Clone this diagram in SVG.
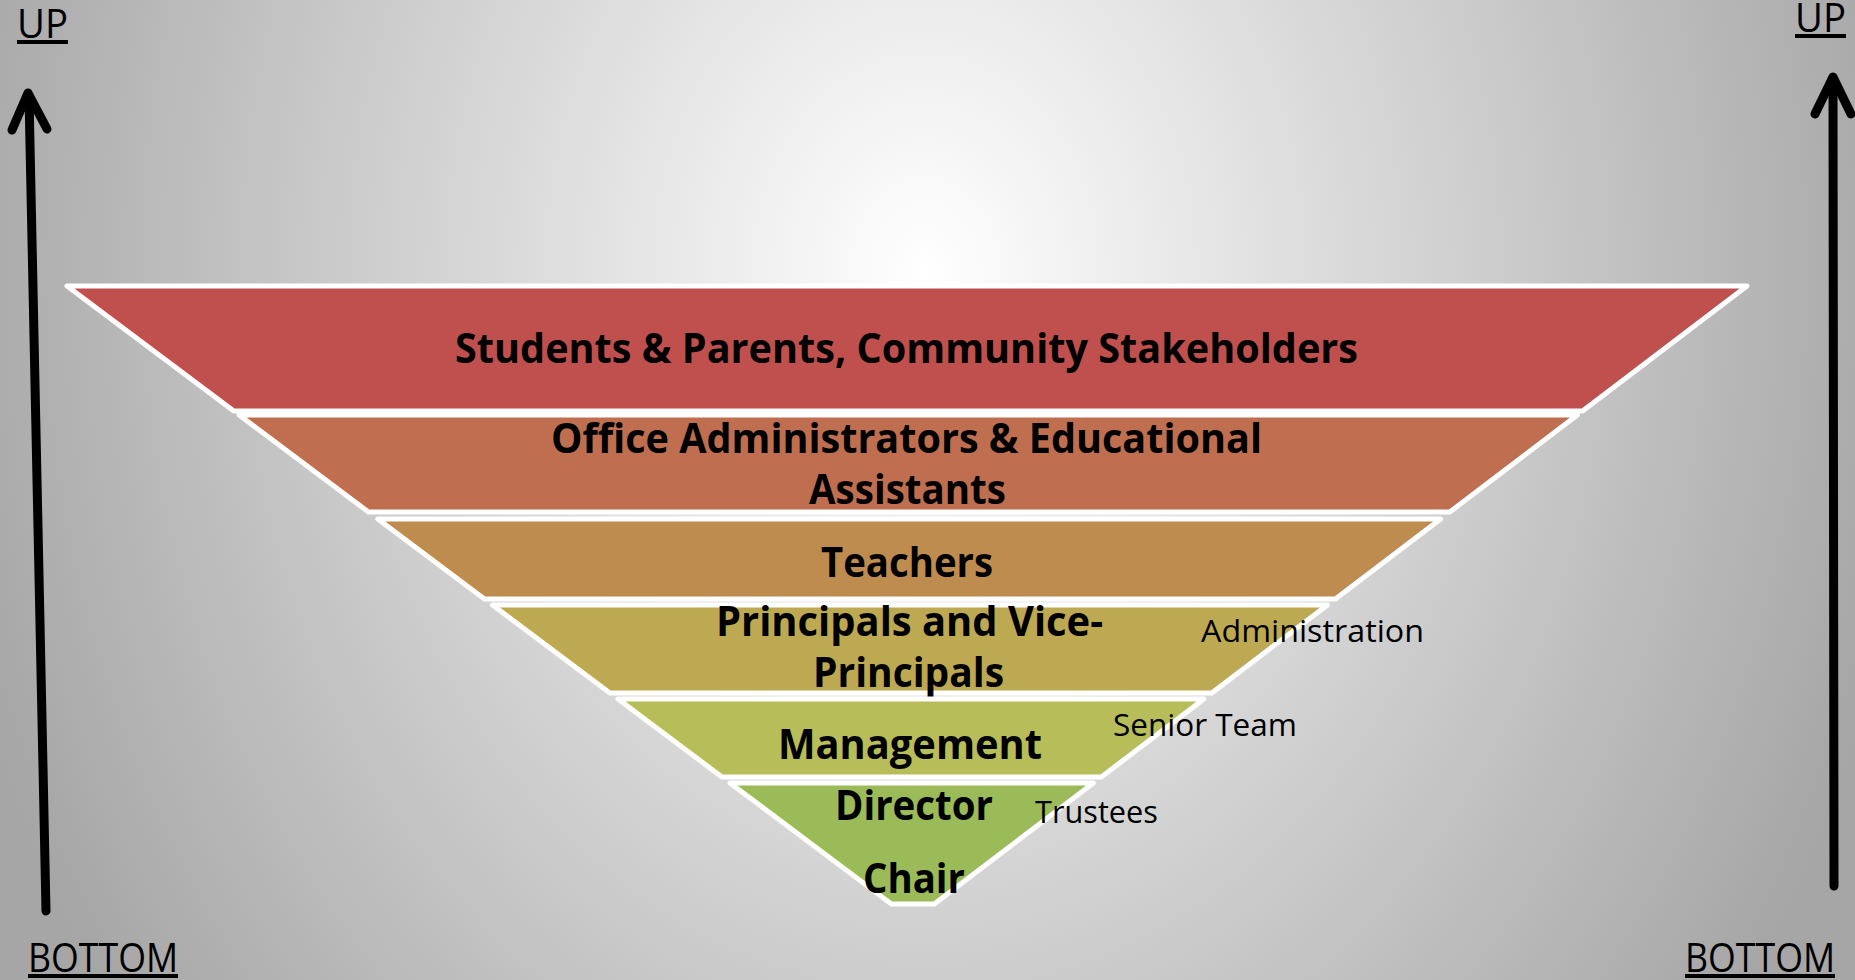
<svg xmlns="http://www.w3.org/2000/svg" width="1855" height="980" viewBox="0 0 1855 980">
<defs>
<radialGradient id="bg" gradientUnits="userSpaceOnUse" cx="0" cy="0" r="1" gradientTransform="translate(925 270) scale(1000 1250)">
<stop offset="0" stop-color="#FFFFFF"/>
<stop offset="1" stop-color="#A6A6A6"/>
</radialGradient>
<style>
.band{stroke:#FFFFFF;stroke-width:5;stroke-linejoin:round}
.lbl{font-family:"Open Sans","Liberation Sans",sans-serif;font-weight:bold;font-size:42px;fill:#000}
.side{font-family:"Open Sans","Liberation Sans",sans-serif;font-size:31px;fill:#000}
.dir{font-family:"Open Sans","Liberation Sans",sans-serif;font-size:40px;fill:#000;text-decoration:underline}
.arrow{fill:none;stroke:#000;stroke-width:9;stroke-linecap:round;stroke-linejoin:round}
</style>
</defs>
<rect x="0" y="0" width="1855" height="980" fill="url(#bg)"/>

<g id="band-students">
<polygon class="band" fill="#C0504D" points="67,286 1747,286 1582.6,411 233.8,411"/>
<text class="lbl" x="455" y="363" textLength="903" lengthAdjust="spacingAndGlyphs">Students &amp; Parents, Community Stakeholders</text>
</g>
<g id="band-office">
<polygon class="band" fill="#BF6F4F" points="239.1,415 1577.4,415 1449.8,512 368.5,512"/>
<text class="lbl" x="551" y="453" textLength="711" lengthAdjust="spacingAndGlyphs">Office Administrators &amp; Educational</text>
<text class="lbl" x="809" y="504" textLength="197" lengthAdjust="spacingAndGlyphs">Assistants</text>
</g>
<g id="band-teachers">
<polygon class="band" fill="#BF8C50" points="377.8,519 1440.6,519 1335.4,599 484.5,599"/>
<text class="lbl" x="821" y="577" textLength="172" lengthAdjust="spacingAndGlyphs">Teachers</text>
</g>
<g id="band-principals">
<polygon class="band" fill="#BEA953" points="492.5,605 1327.5,605 1211.8,693 609.9,693"/>
<text class="lbl" x="716" y="636" textLength="387" lengthAdjust="spacingAndGlyphs">Principals and Vice-</text>
<text class="lbl" x="813" y="687" textLength="191" lengthAdjust="spacingAndGlyphs">Principals</text>
</g>
<g id="band-management">
<polygon class="band" fill="#B7BE59" points="618,699 1203.9,699 1101.3,777 722,777"/>
<text class="lbl" x="778" y="759" textLength="264" lengthAdjust="spacingAndGlyphs">Management</text>
</g>
<g id="band-director">
<polygon class="band" fill="#9BBB59" points="730,783 1093.4,783 934.3,904 891.4,904"/>
<text class="lbl" x="835" y="820" textLength="158" lengthAdjust="spacingAndGlyphs">Director</text>
<text class="lbl" x="863" y="893" textLength="102" lengthAdjust="spacingAndGlyphs">Chair</text>
</g>

<g id="label-administration">
<text class="side" x="1201" y="642" textLength="223" lengthAdjust="spacingAndGlyphs">Administration</text>
</g>
<g id="label-senior-team">
<text class="side" x="1113" y="736" textLength="184" lengthAdjust="spacingAndGlyphs">Senior Team</text>
</g>
<g id="label-trustees">
<text class="side" x="1035" y="823" textLength="123" lengthAdjust="spacingAndGlyphs">Trustees</text>
</g>

<g id="label-up-left"><text class="dir" x="17" y="38" textLength="51" lengthAdjust="spacingAndGlyphs">UP</text></g>
<g id="label-up-right"><text class="dir" x="1795" y="32" textLength="51" lengthAdjust="spacingAndGlyphs">UP</text></g>
<g id="label-bottom-left"><text class="dir" x="28" y="972" textLength="150" lengthAdjust="spacingAndGlyphs">BOTTOM</text></g>
<g id="label-bottom-right"><text class="dir" x="1685" y="972" textLength="150" lengthAdjust="spacingAndGlyphs">BOTTOM</text></g>

<g id="connectors">
<line class="arrow" x1="46" y1="911" x2="29" y2="96"/>
<polyline class="arrow" points="12,130 28,93 47,129"/>
<line class="arrow" x1="1834" y1="886" x2="1833" y2="80"/>
<polyline class="arrow" points="1815,114 1833,77 1851,114"/>
</g>
</svg>
